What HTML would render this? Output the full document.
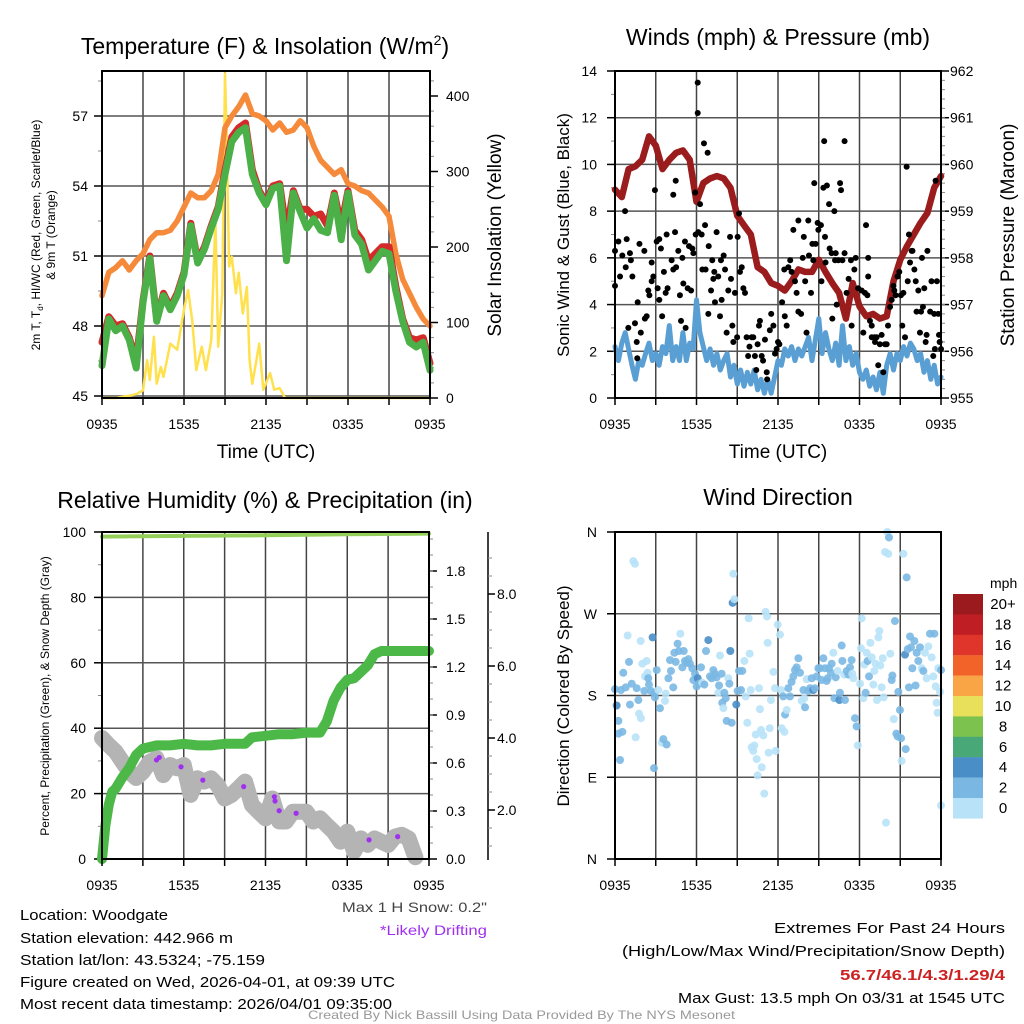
<!DOCTYPE html>
<html><head><meta charset="utf-8">
<style>
html,body{margin:0;padding:0;background:#fff;}
svg{display:block;font-family:"Liberation Sans",sans-serif;}
</style></head>
<body>
<svg id="root" width="1024" height="1024" viewBox="0 0 1024 1024" xmlns="http://www.w3.org/2000/svg">
<rect width="1024" height="1024" fill="#fff"/>
<text x="265" y="54" font-size="23" text-anchor="middle">Temperature (F) &amp; Insolation (W/m<tspan font-size="14" dy="-9">2</tspan><tspan dy="9">)</tspan></text>
<text x="778" y="45" font-size="23" text-anchor="middle">Winds (mph) &amp; Pressure (mb)</text>
<text x="265" y="508" font-size="23" text-anchor="middle">Relative Humidity (%) &amp; Precipitation (in)</text>
<text x="778" y="505" font-size="23" text-anchor="middle">Wind Direction</text>

<text transform="translate(40,235) rotate(-90)" font-size="12" text-anchor="middle">2m T, T<tspan font-size="8" dy="3">d</tspan><tspan dy="-3">, HI/WC (Red, Green, Scarlet/Blue)</tspan></text>
<text transform="translate(55,235) rotate(-90)" font-size="12" text-anchor="middle">&amp; 9m T (Orange)</text>
<text transform="translate(501,235) rotate(-90)" font-size="19" text-anchor="middle">Solar Insolation (Yellow)</text>
<text transform="translate(569,235) rotate(-90)" font-size="17" text-anchor="middle">Sonic Wind &amp; Gust (Blue, Black)</text>
<text transform="translate(1014,235) rotate(-90)" font-size="19" text-anchor="middle">Station Pressure (Maroon)</text>
<text transform="translate(49,696) rotate(-90)" font-size="12" text-anchor="middle">Percent, Precipitation (Green), &amp; Snow Depth (Gray)</text>
<text transform="translate(569,696) rotate(-90)" font-size="17" text-anchor="middle">Direction (Colored By Speed)</text>
<text x="266" y="458" font-size="19" text-anchor="middle">Time (UTC)</text>
<text x="778" y="458" font-size="19" text-anchor="middle">Time (UTC)</text>

<g font-size="15">
<text x="20" y="920" textLength="148" lengthAdjust="spacingAndGlyphs">Location: Woodgate</text>
<text x="20" y="943" textLength="213" lengthAdjust="spacingAndGlyphs">Station elevation: 442.966 m</text>
<text x="20" y="965" textLength="245" lengthAdjust="spacingAndGlyphs">Station lat/lon: 43.5324; -75.159</text>
<text x="20" y="987" textLength="375" lengthAdjust="spacingAndGlyphs">Figure created on Wed, 2026-04-01, at 09:39 UTC</text>
<text x="20" y="1009" textLength="372" lengthAdjust="spacingAndGlyphs">Most recent data timestamp: 2026/04/01 09:35:00</text>
</g>
<text x="342" y="912" font-size="14" fill="#444" textLength="145" lengthAdjust="spacingAndGlyphs">Max 1 H Snow: 0.2"</text>
<text x="380" y="935" font-size="14" fill="#a030f0" textLength="107" lengthAdjust="spacingAndGlyphs">*Likely Drifting</text>
<g font-size="15">
<text x="774" y="933" textLength="231" lengthAdjust="spacingAndGlyphs">Extremes For Past 24 Hours</text>
<text x="622" y="956" textLength="383" lengthAdjust="spacingAndGlyphs">(High/Low/Max Wind/Precipitation/Snow Depth)</text>
<text x="840" y="980" fill="#cc2222" font-weight="bold" textLength="165" lengthAdjust="spacingAndGlyphs">56.7/46.1/4.3/1.29/4</text>
<text x="678" y="1003" textLength="327" lengthAdjust="spacingAndGlyphs">Max Gust: 13.5 mph On 03/31 at 1545 UTC</text>
</g>
<text x="308" y="1019" font-size="12" fill="#999" textLength="427" lengthAdjust="spacingAndGlyphs">Created By Nick Bassill Using Data Provided By The NYS Mesonet</text>
<g id="charts"></g>
</svg>
<script>
// ---------- DATA ----------
const hours97 = []; for (let i = 0; i <= 96; i++) hours97.push(i * 0.25);
const hours49 = []; for (let i = 0; i <= 48; i++) hours49.push(i * 0.5);
const xTickLabels = ["0935","1535","2135","0335","0935"];
const xTickHours = [0,6,12,18,24];

const temp2m = [47.3,48.4,48.0,48.1,47.5,46.5,49.1,51.0,48.3,49.4,48.8,49.4,50.3,52.4,50.8,51.4,52.3,53.1,54.7,56.1,56.5,56.7,54.7,53.8,53.3,54.0,54.1,52.0,53.8,53.0,53.0,52.7,52.8,52.3,53.7,52.3,53.8,52.1,51.7,50.8,51.1,51.4,51.4,49.7,48.3,47.5,47.4,47.5,46.4];
const heatIndex = [46.3,48.3,47.8,48.0,47.4,46.2,49.0,50.9,48.2,49.3,48.7,49.3,50.2,52.3,50.7,51.3,52.2,53.0,54.5,55.9,56.3,56.5,54.5,53.7,53.2,53.9,54.0,50.8,53.7,52.9,52.2,52.6,52.1,52.0,53.6,51.7,53.7,51.9,51.5,50.4,50.8,51.2,51.1,49.5,48.2,47.3,47.1,47.3,46.1];
const temp9m = [49.3,50.3,50.5,50.8,50.4,50.8,51.1,51.7,52.0,52.0,52.1,52.5,53.1,53.7,53.5,53.5,53.8,54.5,56.5,57.0,57.4,57.9,57.1,57.0,56.8,56.4,56.7,56.3,56.4,56.8,56.5,55.7,55.1,54.8,54.5,54.7,54.1,54.0,53.8,53.7,53.4,53.1,52.7,51.1,50.0,49.4,48.8,48.3,48.0];
const solarHours = [0,1,2,2.5,3,3.3,3.5,3.8,4,4.3,4.5,5,5.5,6,6.3,6.6,6.9,7.3,7.6,8,8.3,8.5,8.8,9,9.1,9.3,9.5,9.8,10,10.3,10.6,10.8,11,11.3,11.5,11.8,12.3,12.6,13,13.4,16,20,24];
const solarVals = [0,0,3,5,10,50,24,81,19,41,28,72,64,117,143,103,37,68,37,77,236,68,139,430,360,174,187,139,166,112,147,50,19,50,72,11,33,11,13,0,0,0,0];
const tempTicks = [45,48,51,54,57];
const solarTicks = [0,100,200,300,400];

const pressure = [959.46,959.3,959.9,959.96,960.1,960.6,960.4,959.9,960.1,960.25,960.3,960.1,959.2,959.6,959.7,959.75,959.7,959.5,958.9,958.7,958.5,957.8,957.7,957.46,957.4,957.3,957.5,957.75,957.7,957.7,957.96,957.7,957.46,957.25,956.7,957.46,956.96,956.75,956.8,956.7,956.75,957.5,957.96,958.25,958.5,958.75,958.96,959.5,959.75];
const sonicWind = [2.2,1.6,2.35,2.8,2.1,1.4,0.8,1.6,1.4,1.9,2.35,1.6,1.9,1.4,2.2,1.9,3.1,1.6,2.2,1.6,2.8,1.6,2.35,2.1,4.2,2.8,2.2,1.6,2.1,1.4,1.9,1.2,1.6,1.9,0.9,1.4,0.6,1.2,0.5,1.1,0.6,1.2,0.35,0.8,0.2,0.8,0.2,0.9,1.6,1.4,2.1,1.8,2.2,1.6,2.1,1.8,2.2,2.6,1.6,2.5,3.4,1.9,2.8,2.1,1.6,2.35,1.4,3.1,1.6,2.2,1.4,1.9,1.1,0.8,1.2,0.5,0.9,0.35,1.1,0.2,1.4,1.9,1.2,1.9,1.6,2.2,1.8,2.35,2.1,1.6,1.9,1.1,1.6,0.8,1.4,0.6,0.9];
const gustHours = [0,0,0.25,0.37,0.54,0.74,0.79,0.86,1.1,1.17,1.28,0.98,1.47,1.6,1.64,1.67,1.8,1.9,2.16,2.2,2.33,2.45,2.53,2.7,2.7,2.82,2.94,3.07,3.14,3.26,3.26,3.38,3.47,3.6,3.73,3.8,3.87,4.17,4.29,4.29,4.42,4.47,4.5,4.66,4.78,4.86,4.96,5.03,5.15,5.2,5.35,5.45,5.6,5.69,5.77,5.9,5.94,6.09,6.09,6.13,6.26,6.38,6.43,6.55,6.63,6.67,6.82,6.87,6.9,7.07,7.16,7.24,7.31,7.36,7.48,7.6,7.73,7.8,7.85,8.0,8.1,8.22,8.34,8.47,8.54,8.64,8.71,8.83,8.99,9.03,9.13,9.2,9.33,9.45,9.57,9.69,9.8,9.9,10.06,10.18,10.3,10.4,10.5,10.6,10.67,10.8,10.9,11.04,11.17,11.2,11.4,11.5,11.66,11.78,11.9,12.0,12.1,12.3,12.46,12.5,12.64,12.76,12.9,13.0,13.13,13.25,13.37,13.5,13.5,13.7,13.82,13.9,14.0,14.1,14.23,14.28,14.43,14.53,14.6,14.67,14.77,14.92,14.97,15.16,15.2,15.34,15.4,15.46,15.5,15.6,15.76,15.8,15.95,16.0,16.15,16.2,16.25,16.32,16.44,16.57,16.64,16.74,16.9,16.9,17.05,17.2,17.37,17.42,17.62,17.72,17.9,18.16,18.28,18.4,18.48,18.58,18.64,18.64,18.77,18.9,18.9,19.1,19.14,19.26,19.38,19.5,19.63,19.75,19.88,20.0,20.1,20.25,20.37,20.5,20.56,20.66,20.8,20.93,21.05,21.15,21.23,21.35,21.47,21.55,21.64,21.72,21.84,21.9,22.04,22.14,22.2,22.33,22.45,22.53,22.6,22.67,22.77,22.87,22.94,23.0,23.2,23.3,23.43,23.5,23.55,23.6,23.7,23.8,23.85,23.9,24.0];
const gustVals = [4.8,6.3,6.7,5.2,6.1,8.0,5.6,6.8,6.2,5.9,5.2,3.0,3.2,2.4,1.7,4.1,6.6,2.8,6.3,3.4,3.5,4.6,4.4,5.8,5.0,5.2,8.9,6.7,4.7,6.8,4.2,6.4,3.5,5.4,4.5,7.0,4.7,5.9,8.7,5.5,7.1,9.3,5.6,6.3,4.4,3.3,6.0,4.9,6.7,3.0,4.7,6.5,4.6,6.4,6.2,8.8,7.0,13.5,12.2,7.1,8.3,7.0,5.5,10.9,7.4,5.5,10.5,3.6,6.5,4.6,5.9,5.1,5.4,4.1,7.1,5.2,3.5,5.9,4.2,6.1,5.5,2.8,4.6,6.9,5.1,3.1,2.4,4.5,2.6,6.9,7.9,5.4,5.6,4.7,4.5,2.6,1.8,2.2,2.6,2.6,1.8,1.2,2.3,3.1,3.3,1.8,1.6,2.5,1.1,0.8,2.9,3.6,3.1,1.9,2.1,2.4,2.3,4.1,5.5,3.5,3.1,5.6,5.9,5.4,7.2,5.0,4.5,7.6,3.7,3.6,6.0,6.9,5.0,2.8,7.6,6.1,4.5,6.6,5.9,9.2,6.6,7.5,7.2,7.4,5.0,9.0,11.0,6.9,5.8,9.1,8.3,6.4,6.2,3.4,8.0,5.9,6.2,4.0,5.9,9.2,8.9,5.9,11.0,6.2,4.5,5.1,5.9,3.1,5.5,6.0,4.7,4.6,2.8,4.5,7.4,4.4,6.0,5.2,3.3,3.1,2.6,2.6,2.4,2.6,1.4,2.3,2.7,1.1,2.3,2.3,3.1,3.9,4.2,4.8,4.6,4.4,5.2,5.4,4.4,3.1,4.5,2.6,9.9,5.0,7.0,5.8,6.3,6.3,5.5,5.0,3.7,4.6,2.8,3.7,6.0,3.9,4.7,2.4,2.7,6.3,3.7,5.0,1.8,3.6,2.1,9.3,5.0,3.6,2.7,2.4,2.1];
const windTicks = [0,2,4,6,8,10,12,14];
const pressTicks = [955,956,957,958,959,960,961,962];

const rhHours = [0,6,12,18,24];
const rhVals = [98.6,98.8,99.0,99.3,99.5];
const precipHours = [0,0.25,0.5,0.75,1,1.5,2,2.5,2.75,3,4,5,6,7,8,9,10.5,11,12,13,14,15,16,16.5,17,17.5,18,18.5,19,19.5,20,20.5,24];
const precipVals = [0,0.21,0.34,0.42,0.44,0.51,0.57,0.65,0.67,0.69,0.71,0.71,0.72,0.71,0.71,0.72,0.72,0.76,0.77,0.78,0.78,0.79,0.79,0.86,0.99,1.07,1.12,1.13,1.17,1.21,1.28,1.30,1.30];
const snowHours = [0,0.5,1,1.5,2,2.5,3,3.5,4,4.5,5,5.5,6,6.5,7,7.5,8,8.5,9,9.5,10,10.5,11,11.5,12,12.5,13,13.5,14,14.5,15,15.5,16,16.5,17,17.5,18,18.5,19,19.5,20,20.5,21,21.5,22,22.5,23];
const snowVals = [4.0,3.8,3.62,3.34,3.06,2.89,3.06,3.34,3.44,2.97,3.25,3.16,3.25,2.42,2.88,2.79,2.88,2.69,2.32,2.42,2.6,2.79,2.14,1.95,1.77,2.32,1.68,1.68,1.95,1.95,1.95,1.68,1.77,1.58,1.4,1.12,1.4,0.85,1.21,1.03,1.21,1.12,1.03,1.26,1.31,1.21,0.69];
const driftHours = [4.0,4.2,5.8,7.4,10.4,12.65,12.7,13.0,14.25,19.6,21.7];
const driftVals = [3.39,3.46,3.2,2.83,2.65,2.37,2.25,1.98,1.91,1.17,1.26];
const pctTicks = [0,20,40,60,80,100];
const precipTicks = [0,0.3,0.6,0.9,1.2,1.5,1.8];
const precipTickLabels = ["0.0","0.3","0.6","0.9","1.2","1.5","1.8"];
const snowTicks = [2,4,6,8];
const snowTickLabels = ["2.0","4.0","6.0","8.0"];

const dirHours = [0,0.12,0.25,0.25,0.37,0.54,0.44,0.61,0.79,0.93,1.03,1.1,1.23,1.35,1.47,1.52,1.6,1.72,1.77,1.89,1.91,2.01,2.16,2.21,2.33,2.4,2.45,2.5,2.65,2.77,2.9,2.94,3.07,3.19,3.31,3.44,3.56,3.68,3.73,3.8,2.87,3.93,4.05,4.12,4.29,4.37,4.47,4.61,4.71,4.81,4.96,5.06,5.15,5.28,5.4,5.52,5.69,5.77,5.89,6.01,6.09,6.18,6.33,6.43,6.58,6.7,6.87,6.99,7.12,7.24,7.36,7.48,7.61,7.66,7.73,7.85,7.9,7.98,8.05,8.15,8.22,8.34,8.42,8.49,8.59,8.66,8.71,8.79,8.93,9.03,9.13,9.28,9.37,9.52,9.62,9.74,9.84,9.91,9.99,10.06,10.18,10.26,10.36,10.43,10.5,10.6,10.67,10.75,10.8,10.92,10.99,11.09,11.19,11.24,11.31,11.39,11.48,11.66,11.78,11.83,11.98,12.15,12.22,12.27,12.39,12.47,12.52,12.64,12.76,12.88,13.0,13.13,13.25,13.37,13.5,13.62,13.74,13.87,13.94,13.99,14.11,14.23,14.36,14.48,14.6,14.72,14.85,14.97,15.09,15.21,15.34,15.46,15.58,15.66,15.75,15.9,15.95,16.07,16.15,16.25,16.39,16.52,16.56,16.69,16.74,16.88,16.93,17.06,17.18,17.3,17.42,17.47,17.55,17.67,17.79,17.87,18.04,18.11,18.16,18.28,18.36,18.45,18.53,18.6,18.7,18.8,18.9,19.02,19.09,19.19,19.29,19.39,19.46,19.53,19.63,19.71,19.78,19.88,19.95,20.05,20.12,20.17,20.27,20.37,20.42,20.52,20.61,20.71,20.81,20.86,20.98,21.06,21.1,21.23,21.35,21.4,21.47,21.55,21.64,21.72,21.79,21.89,22.04,22.13,22.21,22.33,22.45,22.58,22.7,22.82,22.94,23.07,23.19,23.31,23.44,23.51,23.61,23.68,23.75,23.8,23.93,24,24];
const dirVals = [187,169,152,138,109,140,186,205,189,246,217,170,193,328,325,134,188,175,160,240,155,215,185,201,218,205,199,192,185,244,183,178,208,186,166,128,132,174,182,126,100,199,219,207,189,227,217,237,229,248,211,229,218,216,220,215,210,197,204,190,199,193,211,194,192,229,241,201,199,208,204,200,183,191,224,204,172,166,183,177,152,199,193,229,150,282,314,286,170,185,207,186,207,218,179,150,265,226,186,123,119,125,137,110,92,188,165,142,101,136,72,272,267,238,117,144,175,206,188,119,258,247,186,144,179,140,159,164,188,179,195,201,208,211,221,205,174,186,177,167,198,185,188,199,186,188,201,210,210,197,221,210,196,199,210,205,215,227,177,200,207,175,183,235,218,203,175,207,203,211,219,204,199,155,146,125,193,232,265,177,214,183,227,218,201,238,222,192,207,215,175,244,251,213,189,221,178,338,40,360,336,354,226,197,202,154,262,138,135,184,164,133,108,336,225,121,310,231,189,245,233,210,240,191,227,218,233,210,207,227,199,234,248,222,201,248,190,172,161,210,184,59,208];
const dirSpeeds = [3,5,3,3,3,3,3,3,3,1,3,3,3,1,1,1,3,3,1,1,1,1,3,1,1,1,3,3,3,5,3,3,3,1,3,1,3,1,1,3,3,3,3,3,3,3,3,3,3,1,3,3,3,3,3,3,3,3,3,3,5,3,3,1,3,3,5,3,3,3,3,3,1,3,1,3,3,1,3,3,3,1,3,5,3,5,1,1,5,3,3,3,3,1,1,1,1,1,1,1,1,1,1,1,1,1,1,1,1,1,1,1,1,1,1,1,1,1,1,1,1,1,1,1,3,1,3,1,3,3,3,3,3,3,3,3,1,3,1,3,1,3,3,3,5,3,3,3,3,3,3,3,3,3,3,3,3,1,3,3,1,5,3,3,3,1,3,3,3,3,3,1,1,3,3,1,1,1,1,1,1,3,1,3,3,1,1,1,1,1,1,1,1,1,1,1,1,1,1,1,1,3,1,3,3,1,3,3,3,3,3,3,1,1,5,3,3,3,3,3,3,3,3,3,3,3,3,1,3,1,1,1,3,1,1,3,1,1,1,1,1,1,3];
const dirLabels = ["N","W","S","E","N"];
const dirTicks = [360,270,180,90,0];
const cbarLabels = ["20+","18","16","14","12","10","8","6","4","2","0"];
const cbarColors = ["#9a1a1e","#bf1e24","#e0352a","#f2632a","#f9a445","#e8e05a","#7cc24e","#48a878","#4a8ec8","#7ab8e3","#b8e2f8"];

// ---------- helpers ----------
const NS = "http://www.w3.org/2000/svg";
const root = document.getElementById("charts");
function el(tag, attrs, parent) {
  const e = document.createElementNS(NS, tag);
  for (const k in attrs) e.setAttribute(k, attrs[k]);
  (parent || root).appendChild(e);
  return e;
}
function lin(d0, d1, r0, r1) { return v => r0 + (v - d0) * (r1 - r0) / (d1 - d0); }
function pathD(xs, ys, fx, fy) { return xs.map((x, i) => (i ? "L" : "M") + fx(x).toFixed(1) + "," + fy(ys[i]).toFixed(1)).join(""); }

function frame(x0, x1, y0, y1, name) {
  const g = el("g", {});
  
  
  return g;
}
function vgrid(g, fx, y0, y1) {
  for (let h = 3; h < 24; h += 3) {
    const l = el("line", {x1: fx(h), x2: fx(h), y1: y0, y2: y1, stroke: "#444", "stroke-width": 1.5}, g);
    
    
  }
}
function hgrid(g, x0, x1, y) {
  const l = el("line", {x1: x0, x2: x1, y1: y, y2: y, stroke: "#555", "stroke-width": 1.5}, g);
  
  
}
function box(g, x0, x1, y0, y1) {
  const r = el("rect", {x: x0, y: y0, width: x1 - x0, height: y1 - y0, fill: "none", stroke: "#000", "stroke-width": 2}, g);
  
  
}
function xticks(g, fx, y1, ty) {
  for (let h = 0; h <= 24; h += 3) {
    const t = el("line", {x1: fx(h), x2: fx(h), y1: y1, y2: y1 + 7, stroke: "#000", "stroke-width": 1.5}, g);
    
    
  }
  xTickHours.forEach((h, i) => {
    const t = el("text", {x: fx(h), y: ty, "font-size": 14, "text-anchor": "middle"}, g);
    t.textContent = xTickLabels[i];
    
    
  });
}
function ytick(g, x, y, len, w) {
  const t = el("line", {x1: x, x2: x + len, y1: y, y2: y, stroke: w ? "#000" : "#888", "stroke-width": w ? 1.5 : 1}, g);
  
  
}
function label(g, x, y, txt, anchor, name, size) {
  const t = el("text", {x: x, y: y, "font-size": size || 14, "text-anchor": anchor}, g);
  t.textContent = txt;
  
  
  return t;
}

// ---------- Panel 1: temperature ----------
(function () {
  const X0 = 102, X1 = 430, Y0 = 71, Y1 = 398;
  const fx = lin(0, 24, X0, X1);
  const fy = lin(45, 57, 396, 116);
  const fs = lin(0, 400, 398, 96);
  const g = frame(X0, X1, Y0, Y1, "temperature-panel");
  vgrid(g, fx, Y0, Y1);
  tempTicks.forEach(t => { hgrid(g, X0, X1, fy(t)); ytick(g, X0 - 8, fy(t), 8, true); label(g, 88, fy(t) + 5, String(t), "end", "temp-tick-label"); });
  for (let t = 46.5; t < 59; t += 3) ytick(g, X0 - 4, fy(t), 4, false);
  solarTicks.forEach(v => { ytick(g, X1, fs(v), 8, true); label(g, 446, fs(v) + 5, String(v), "start", "solar-tick-label"); });
  for (let v = 20; v < 430; v += 20) if (v % 100) ytick(g, X1, fs(v), 4, false);
  const so = el("path", {d: pathD(solarHours, solarVals, fx, fs), fill: "none", stroke: "#ffe04d", "stroke-width": 2.5, "stroke-linejoin": "round"}, g);
  
  
  const o = el("path", {d: pathD(hours49, temp9m, fx, fy), fill: "none", stroke: "#f58a3a", "stroke-width": 5.5, "stroke-linejoin": "round", "stroke-linecap": "round"}, g);
  
  
  const r = el("path", {d: pathD(hours49, temp2m, fx, fy), fill: "none", stroke: "#d42a2a", "stroke-width": 7, "stroke-linejoin": "round", "stroke-linecap": "round"}, g);
  
  
  const gr = el("path", {d: pathD(hours49, heatIndex, fx, fy), fill: "none", stroke: "#4cb048", "stroke-width": 7, "stroke-linejoin": "round", "stroke-linecap": "round"}, g);
  
  
  box(g, X0, X1, Y0, Y1);
  xticks(g, fx, Y1, 429);
})();

// ---------- Panel 2: winds ----------
(function () {
  const X0 = 615, X1 = 941, Y0 = 71, Y1 = 398;
  const fx = lin(0, 24, X0, X1);
  const fy = lin(0, 14, 398, 71);
  const fp = lin(955, 962, 398, 71);
  const g = frame(X0, X1, Y0, Y1, "winds-panel");
  vgrid(g, fx, Y0, Y1);
  windTicks.forEach(t => { if (t > 0 && t < 14) hgrid(g, X0, X1, fy(t)); ytick(g, X0 - 8, fy(t), 8, true); label(g, 597, fy(t) + 5, String(t), "end", "wind-tick-label"); });
  for (let t = 1; t < 14; t += 2) ytick(g, X0 - 4, fy(t), 4, false);
  pressTicks.forEach(p => { ytick(g, X1, fp(p), 8, true); label(g, 950, fp(p) + 5, String(p), "start", "pressure-tick-label"); });
  for (let p = 955.2; p < 962; p += 0.2) ytick(g, X1, fp(p), 4, false);
  const b = el("path", {d: pathD(hours97, sonicWind, fx, fy), fill: "none", stroke: "#5a9fd4", "stroke-width": 5, "stroke-linejoin": "round", "stroke-linecap": "round"}, g);
  
  
  const m = el("path", {d: pathD(hours49, pressure, fx, fp), fill: "none", stroke: "#9b1c1c", "stroke-width": 6.5, "stroke-linejoin": "round", "stroke-linecap": "round"}, g);
  
  
  gustHours.forEach((h, i) => {
    const c = el("circle", {cx: fx(h), cy: fy(gustVals[i]), r: 3, fill: "#000"}, g);
    
    
  });
  box(g, X0, X1, Y0, Y1);
  xticks(g, fx, Y1, 429);
})();

// ---------- Panel 3: humidity/precip ----------
(function () {
  const X0 = 102, X1 = 429, Y0 = 532, Y1 = 859;
  const fx = lin(0, 24, X0, X1);
  const fy = lin(0, 100, Y1, Y0);
  const fpr = lin(0, 1.8, 859, 571);
  const fsn = lin(4, 8, 738, 594);
  const g = frame(X0, X1, Y0, Y1, "humidity-panel");
  vgrid(g, fx, Y0, Y1);
  pctTicks.forEach(t => { if (t > 0 && t < 100) hgrid(g, X0, X1, fy(t)); ytick(g, X0 - 8, fy(t), 8, true); label(g, 86, fy(t) + 5, String(t), "end", "percent-tick-label"); });
  for (let t = 10; t < 100; t += 20) ytick(g, X0 - 4, fy(t), 4, false);
  precipTicks.forEach((t, i) => { ytick(g, X1, fpr(t), 8, true); label(g, 446, fpr(t) + 5, precipTickLabels[i], "start", "precip-tick-label"); });
  for (let t = 0.1; t < 2.05; t += 0.1) ytick(g, X1, fpr(t), 4, false);
  const ax = el("line", {x1: 488, x2: 488, y1: 532, y2: 860, stroke: "#000", "stroke-width": 1.5}, g);
  
  
  snowTicks.forEach((t, i) => { ytick(g, 488, fsn(t), 7, true); label(g, 497, fsn(t) + 5, snowTickLabels[i], "start", "snow-tick-label"); });
  for (let t = 1; t < 9.5; t += 0.5) if (t % 2) ytick(g, 488, fsn(t), 4, false);
  const gs = el("path", {d: pathD(snowHours, snowVals, fx, fsn), fill: "none", stroke: "#b4b4b4", "stroke-width": 16, "stroke-linejoin": "round", "stroke-linecap": "round"}, g);
  
  
  driftHours.forEach((h, i) => {
    const c = el("circle", {cx: fx(h), cy: fsn(driftVals[i]), r: 2.6, fill: "#a030f0"}, g);
    
    
  });
  const pr = el("path", {d: pathD(precipHours, precipVals, fx, fpr), fill: "none", stroke: "#4cb848", "stroke-width": 10, "stroke-linejoin": "round", "stroke-linecap": "round"}, g);
  
  
  const rh = el("path", {d: pathD(rhHours, rhVals, fx, fy), fill: "none", stroke: "#94cf5a", "stroke-width": 4, "stroke-linecap": "round"}, g);
  
  
  box(g, X0, X1, Y0, Y1);
  xticks(g, fx, Y1, 890);
})();

// ---------- Panel 4: wind direction ----------
(function () {
  const X0 = 615, X1 = 941, Y0 = 532, Y1 = 859;
  const fx = lin(0, 24, X0, X1);
  const fy = lin(0, 360, Y1, Y0);
  const g = frame(X0, X1, Y0, Y1, "wind-direction-panel");
  vgrid(g, fx, Y0, Y1);
  dirTicks.forEach((t, i) => { if (t > 0 && t < 360) hgrid(g, X0, X1, fy(t)); ytick(g, X0 - 8, fy(t), 8, true); label(g, 597, fy(t) + 5, dirLabels[i], "end", "direction-tick-label"); });
  const colorFor = s => s >= 4 ? "#4a8ec8" : (s >= 2 ? "#7ab8e3" : "#b8e2f8");
  dirHours.forEach((h, i) => {
    const c = el("circle", {cx: fx(Math.min(h, 24)), cy: fy(dirVals[i]), r: 4, fill: colorFor(dirSpeeds[i]), "fill-opacity": 0.9}, g);
    
    
  });
  box(g, X0, X1, Y0, Y1);
  xticks(g, fx, Y1, 890);
  const cb = el("g", {}, g);
  
  
  label(cb, 990, 588, "mph", "start", "colorbar-unit", 14);
  cbarColors.forEach((c, i) => {
    const r = el("rect", {x: 953, y: 594 + i * 20.4, width: 30, height: 20.6, fill: c}, cb);
    
    
    label(cb, 1003, 594 + i * 20.4 + 15, cbarLabels[i], "middle", "colorbar-label", 15);
  });
})();
</script>
</body></html>
